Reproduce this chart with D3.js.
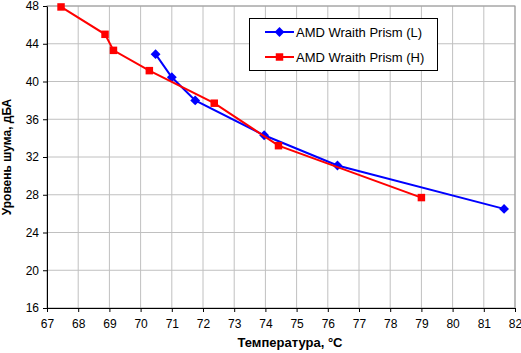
<!DOCTYPE html>
<html lang="ru">
<head>
<meta charset="UTF-8">
<title>Chart</title>
<style>
  body { margin: 0; background: #fff; }
  text { font-family: "Liberation Sans", Arial, sans-serif; }
</style>
</head>
<body>
<script src="https://d3js.org/d3.v7.min.js"></script>
<script>
// data
const lowTemp = [70.48, 71.0, 71.75, 73.96, 76.31, 81.65];
const lowNoise = [42.9, 40.45, 38.0, 34.3, 31.1, 26.5];
const highTemp = [67.45, 68.86, 69.13, 70.28, 72.36, 74.42, 79.0];
const highNoise = [47.9, 45.0, 43.3, 41.15, 37.7, 33.2, 27.7];
const xTicks = d3.range(67, 83, 1);
const yTicks = d3.range(16, 49, 4);
const seriesNames = ['AMD Wraith Prism (L)', 'AMD Wraith Prism (H)'];

const W = 521, H = 353;
const padL = 47, padT = 6, padR = 515, padB = 308;

const svg = d3.select('body').append('svg')
  .attr('width', W)
  .attr('height', H);

const x = d3.scaleLinear().domain([67, 82]).range([padL, padR]);
const y = d3.scaleLinear().domain([16, 48]).range([padB, padT]);

// grid
svg.append('g').selectAll('line').data(xTicks.slice(1))
  .enter().append('line')
  .attr('x1', d => x(d)).attr('x2', d => x(d))
  .attr('y1', padT).attr('y2', padB)
  .attr('stroke', '#c0c0c0');
svg.append('g').selectAll('line').data(yTicks.slice(1))
  .enter().append('line')
  .attr('x1', padL).attr('x2', padR)
  .attr('y1', d => y(d)).attr('y2', d => y(d))
  .attr('stroke', '#c0c0c0');
svg.append('rect')
  .attr('x', padL).attr('y', padT)
  .attr('width', padR - padL).attr('height', padB - padT)
  .attr('fill', 'none').attr('stroke', '#999');

// axes
const xAxis = svg.append('g')
  .attr('transform', `translate(0,${padB})`)
  .call(d3.axisBottom(x).tickValues(xTicks).tickSize(4).tickSizeOuter(0));
const yAxis = svg.append('g')
  .attr('transform', `translate(${padL},0)`)
  .call(d3.axisLeft(y).tickValues(yTicks).tickSize(4).tickSizeOuter(0));
[xAxis, yAxis].forEach(a => {
  a.selectAll('path, line').attr('stroke', '#000');
  a.selectAll('text').attr('font-size', 12)
    .attr('font-family', '"Liberation Sans", Arial, sans-serif').attr('fill', '#000');
});
xAxis.selectAll('text').attr('dy', '1.1em');
yAxis.selectAll('text').attr('dx', '-1px');

// axis titles
svg.append('text')
  .attr('x', 290).attr('y', 347)
  .attr('text-anchor', 'middle')
  .attr('font-size', 13).attr('font-weight', 'bold')
  .text('Температура, °С');
svg.append('text')
  .attr('transform', `translate(11,${(padT + padB) / 2}) rotate(-90)`)
  .attr('text-anchor', 'middle')
  .attr('font-size', 12).attr('font-weight', 'bold')
  .text('Уровень шума, дБА');

const line = d3.line().x(d => x(d[0])).y(d => y(d[1]));
const lowData = lowTemp.map((t, i) => [t, lowNoise[i]]);
const highData = highTemp.map((t, i) => [t, highNoise[i]]);

const diamond = d3.symbol().type(d3.symbolDiamond2).size(62);
const square = d3.symbol().type(d3.symbolSquare).size(56);

svg.append('path').datum(lowData)
  .attr('d', line).attr('fill', 'none')
  .attr('stroke', '#0000ff').attr('stroke-width', 2);
svg.append('g').selectAll('path').data(lowData)
  .enter().append('path')
  .attr('transform', d => `translate(${x(d[0])},${y(d[1])})`)
  .attr('d', diamond).attr('fill', '#0000ff');

svg.append('path').datum(highData)
  .attr('d', line).attr('fill', 'none')
  .attr('stroke', '#ff0000').attr('stroke-width', 2);
svg.append('g').selectAll('path').data(highData)
  .enter().append('path')
  .attr('transform', d => `translate(${x(d[0])},${y(d[1])})`)
  .attr('d', square).attr('fill', '#ff0000');

// legend
const lg = svg.append('g');
lg.append('rect')
  .attr('x', 249.5).attr('y', 18.5)
  .attr('width', 188).attr('height', 52)
  .attr('fill', '#fff').attr('stroke', '#000');
const colors = ['#0000ff', '#ff0000'];
const shapes = [diamond, square];
seriesNames.forEach((name, i) => {
  const ly = 32 + i * 25;
  lg.append('line')
    .attr('x1', 265).attr('x2', 294)
    .attr('y1', ly).attr('y2', ly)
    .attr('stroke', colors[i]).attr('stroke-width', 2);
  lg.append('path')
    .attr('transform', `translate(279.5,${ly})`)
    .attr('d', shapes[i]).attr('fill', colors[i]);
  lg.append('text')
    .attr('x', 296).attr('y', ly + 5)
    .attr('font-size', 13)
    .text(name);
});
</script>
</body>
</html>
